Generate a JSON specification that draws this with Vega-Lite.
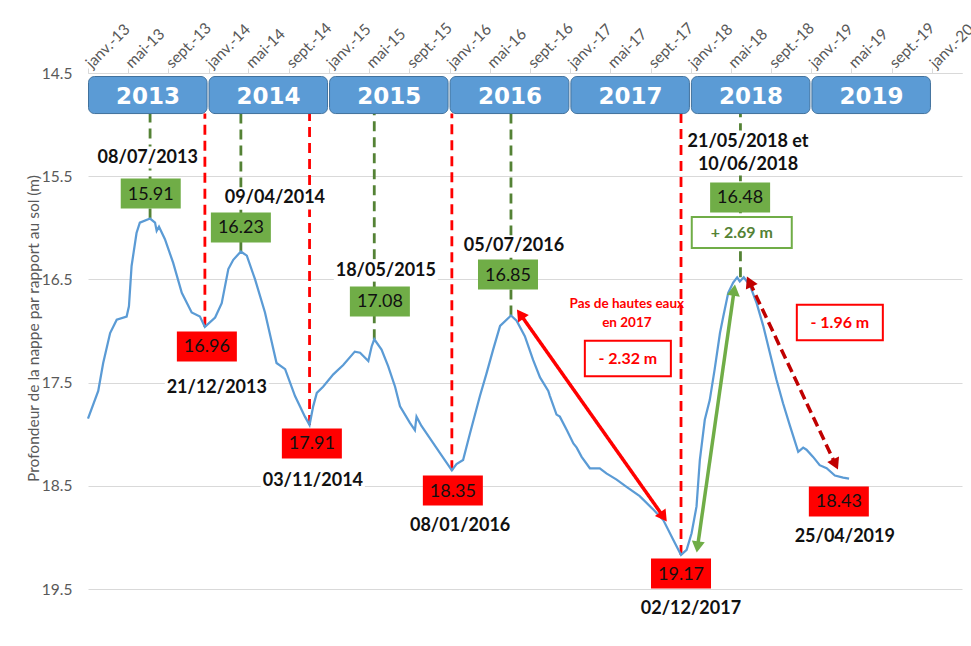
{
  "$schema": "https://vega.github.io/schema/vega-lite/v6.json",
  "width": 874,
  "height": 516,
  "autosize": {"type": "none"},
  "padding": {"left": 88, "top": 73, "right": 9, "bottom": 57},
  "background": "white",
  "config": {"font": "Lato", "view": {"stroke": null}},
  "datasets": {
    "series": [
      {"date": "2013-01-01", "depth": 17.85}, {"date": "2013-02-01", "depth": 17.58}, {"date": "2013-02-16", "depth": 17.31},
      {"date": "2013-03-09", "depth": 17.02}, {"date": "2013-03-29", "depth": 16.89}, {"date": "2013-04-28", "depth": 16.86},
      {"date": "2013-05-05", "depth": 16.76}, {"date": "2013-05-13", "depth": 16.37}, {"date": "2013-05-28", "depth": 16.05},
      {"date": "2013-06-07", "depth": 15.95}, {"date": "2013-07-08", "depth": 15.91}, {"date": "2013-07-23", "depth": 15.95},
      {"date": "2013-07-28", "depth": 16.03}, {"date": "2013-08-04", "depth": 15.99}, {"date": "2013-08-22", "depth": 16.11},
      {"date": "2013-09-16", "depth": 16.34}, {"date": "2013-10-12", "depth": 16.63}, {"date": "2013-11-11", "depth": 16.82},
      {"date": "2013-12-06", "depth": 16.86}, {"date": "2013-12-21", "depth": 16.96}, {"date": "2014-01-21", "depth": 16.87},
      {"date": "2014-02-10", "depth": 16.73}, {"date": "2014-03-02", "depth": 16.40}, {"date": "2014-03-17", "depth": 16.31},
      {"date": "2014-04-09", "depth": 16.23}, {"date": "2014-04-27", "depth": 16.27}, {"date": "2014-05-22", "depth": 16.50},
      {"date": "2014-06-21", "depth": 16.82}, {"date": "2014-07-26", "depth": 17.31}, {"date": "2014-08-21", "depth": 17.37},
      {"date": "2014-09-20", "depth": 17.63}, {"date": "2014-10-20", "depth": 17.83}, {"date": "2014-11-03", "depth": 17.91},
      {"date": "2014-11-14", "depth": 17.73}, {"date": "2014-11-25", "depth": 17.60}, {"date": "2014-12-14", "depth": 17.54},
      {"date": "2015-01-14", "depth": 17.42}, {"date": "2015-02-13", "depth": 17.33}, {"date": "2015-03-20", "depth": 17.20},
      {"date": "2015-04-05", "depth": 17.21}, {"date": "2015-04-30", "depth": 17.29}, {"date": "2015-05-10", "depth": 17.15},
      {"date": "2015-05-18", "depth": 17.08}, {"date": "2015-06-09", "depth": 17.18}, {"date": "2015-06-29", "depth": 17.34},
      {"date": "2015-07-20", "depth": 17.54}, {"date": "2015-08-04", "depth": 17.73}, {"date": "2015-09-03", "depth": 17.89},
      {"date": "2015-09-18", "depth": 17.96}, {"date": "2015-09-23", "depth": 17.83}, {"date": "2015-10-08", "depth": 17.92},
      {"date": "2015-11-13", "depth": 18.09}, {"date": "2015-12-13", "depth": 18.23}, {"date": "2016-01-08", "depth": 18.35},
      {"date": "2016-01-22", "depth": 18.29}, {"date": "2016-02-11", "depth": 18.25}, {"date": "2016-03-03", "depth": 17.99},
      {"date": "2016-04-02", "depth": 17.63}, {"date": "2016-04-22", "depth": 17.41}, {"date": "2016-05-12", "depth": 17.18},
      {"date": "2016-06-02", "depth": 16.95}, {"date": "2016-07-05", "depth": 16.85}, {"date": "2016-07-22", "depth": 16.90},
      {"date": "2016-08-16", "depth": 17.05}, {"date": "2016-09-10", "depth": 17.28}, {"date": "2016-10-01", "depth": 17.45},
      {"date": "2016-10-26", "depth": 17.58}, {"date": "2016-10-31", "depth": 17.63}, {"date": "2016-11-20", "depth": 17.81},
      {"date": "2016-11-30", "depth": 17.83}, {"date": "2016-12-21", "depth": 17.96}, {"date": "2017-01-10", "depth": 18.09},
      {"date": "2017-01-20", "depth": 18.13}, {"date": "2017-02-04", "depth": 18.22}, {"date": "2017-03-01", "depth": 18.33},
      {"date": "2017-03-31", "depth": 18.33}, {"date": "2017-04-20", "depth": 18.38}, {"date": "2017-05-21", "depth": 18.44},
      {"date": "2017-06-20", "depth": 18.51}, {"date": "2017-07-30", "depth": 18.60}, {"date": "2017-09-09", "depth": 18.73},
      {"date": "2017-10-09", "depth": 18.83}, {"date": "2017-11-08", "depth": 19.02}, {"date": "2017-12-02", "depth": 19.17},
      {"date": "2017-12-19", "depth": 19.12}, {"date": "2018-01-03", "depth": 18.96}, {"date": "2018-01-18", "depth": 18.70},
      {"date": "2018-01-28", "depth": 18.25}, {"date": "2018-02-12", "depth": 17.86}, {"date": "2018-02-27", "depth": 17.67},
      {"date": "2018-03-14", "depth": 17.37}, {"date": "2018-03-30", "depth": 17.02}, {"date": "2018-04-09", "depth": 16.86},
      {"date": "2018-04-24", "depth": 16.63}, {"date": "2018-05-09", "depth": 16.53}, {"date": "2018-05-21", "depth": 16.48},
      {"date": "2018-05-29", "depth": 16.52}, {"date": "2018-06-10", "depth": 16.48}, {"date": "2018-06-29", "depth": 16.56},
      {"date": "2018-07-19", "depth": 16.73}, {"date": "2018-08-08", "depth": 16.95}, {"date": "2018-08-28", "depth": 17.21},
      {"date": "2018-09-17", "depth": 17.47}, {"date": "2018-10-07", "depth": 17.70}, {"date": "2018-10-28", "depth": 17.92},
      {"date": "2018-11-22", "depth": 18.17}, {"date": "2018-12-07", "depth": 18.13}, {"date": "2018-12-17", "depth": 18.15},
      {"date": "2019-01-06", "depth": 18.22}, {"date": "2019-01-26", "depth": 18.30}, {"date": "2019-02-16", "depth": 18.33},
      {"date": "2019-03-13", "depth": 18.40}, {"date": "2019-04-07", "depth": 18.42}, {"date": "2019-04-25", "depth": 18.43}
    ],
    "years": [
      {"label": "2013", "start": "2013-01-01", "end": "2014-01-01", "mid": "2013-07-02"},
      {"label": "2014", "start": "2014-01-01", "end": "2015-01-01", "mid": "2014-07-02"},
      {"label": "2015", "start": "2015-01-01", "end": "2016-01-01", "mid": "2015-07-02"},
      {"label": "2016", "start": "2016-01-01", "end": "2017-01-01", "mid": "2016-07-02"},
      {"label": "2017", "start": "2017-01-01", "end": "2018-01-01", "mid": "2017-07-02"},
      {"label": "2018", "start": "2018-01-01", "end": "2019-01-01", "mid": "2018-07-02"},
      {"label": "2019", "start": "2019-01-01", "end": "2020-01-01", "mid": "2019-07-02"}
    ],
    "events": [
      {"date": "2013-07-08", "depth": 15.91, "kind": "hautes eaux", "boxDate": "2013-07-10", "boxDepth": 15.668},
      {"date": "2013-12-21", "depth": 16.96, "kind": "basses eaux", "boxDate": "2013-12-27", "boxDepth": 17.150},
      {"date": "2014-04-09", "depth": 16.23, "kind": "hautes eaux", "boxDate": "2014-04-09", "boxDepth": 15.997},
      {"date": "2014-11-03", "depth": 17.91, "kind": "basses eaux", "boxDate": "2014-11-10", "boxDepth": 18.090},
      {"date": "2015-05-18", "depth": 17.08, "kind": "hautes eaux", "boxDate": "2015-06-04", "boxDepth": 16.714},
      {"date": "2016-01-08", "depth": 18.35, "kind": "basses eaux", "boxDate": "2016-01-11", "boxDepth": 18.546},
      {"date": "2016-07-05", "depth": 16.85, "kind": "hautes eaux", "boxDate": "2016-06-26", "boxDepth": 16.453},
      {"date": "2017-12-02", "depth": 19.17, "kind": "basses eaux", "boxDate": "2017-12-02", "boxDepth": 19.350},
      {"date": "2018-05-31", "depth": 16.48, "kind": "hautes eaux", "boxDate": "2018-05-30", "boxDepth": 15.706},
      {"date": "2019-04-25", "depth": 18.43, "kind": "basses eaux", "boxDate": "2019-03-25", "boxDepth": 18.652}
    ],
    "dateLabels": [
      {"date": "2013-07-01", "depth": 15.319, "text": "08/07/2013"},
      {"date": "2014-07-21", "depth": 15.716, "text": "09/04/2014"},
      {"date": "2015-06-22", "depth": 16.414, "text": "18/05/2015"},
      {"date": "2016-07-14", "depth": 16.181, "text": "05/07/2016"},
      {"date": "2018-06-23", "depth": 15.164, "text": "21/05/2018 et"},
      {"date": "2018-06-23", "depth": 15.387, "text": "10/06/2018"},
      {"date": "2014-01-26", "depth": 17.557, "text": "21/12/2013"},
      {"date": "2014-11-13", "depth": 18.458, "text": "03/11/2014"},
      {"date": "2016-02-02", "depth": 18.894, "text": "08/01/2016"},
      {"date": "2018-01-01", "depth": 19.689, "text": "02/12/2017"},
      {"date": "2019-04-12", "depth": 18.999, "text": "25/04/2019"}
    ],
    "deltas": [
      {"date": "2017-06-24", "depth": 17.267, "text": "- 2.32 m", "sens": "baisse"},
      {"date": "2019-03-28", "depth": 16.918, "text": "- 1.96 m", "sens": "baisse"},
      {"date": "2018-06-04", "depth": 16.046, "text": "+ 2.69 m", "sens": "hausse"}
    ],
    "notes": [
      {"date": "2017-06-21", "depth": 16.734, "text": "Pas de hautes eaux"},
      {"date": "2017-06-21", "depth": 16.918, "text": "en 2017"}
    ],
    "arrows": [
      {"arrow": "baisse 2016-2017", "date": "2016-08-02", "depth": 16.836, "date2": "2017-10-10", "depth2": 18.801},
      {"arrow": "hausse 2017-2018", "date": "2018-05-12", "depth": 16.604, "date2": "2018-01-21", "depth2": 19.092},
      {"arrow": "baisse 2018-2019", "date": "2018-06-27", "depth": 16.521, "date2": "2019-03-15", "depth2": 18.293}
    ]
  },
  "layer": [
    {
      "data": {"name": "events"},
      "transform": [{"filter": "year(datum.date) < 2019"}],
      "mark": {"type": "rule", "strokeWidth": 2.8, "strokeDash": [10, 6]},
      "encoding": {
        "x": {
          "field": "date", "type": "temporal",
          "scale": {"type": "utc", "domain": [{"year": 2013, "month": 1, "date": 1, "utc": true}, {"year": 2020, "month": 4, "date": 1, "utc": true}]},
          "axis": {
            "orient": "top", "title": null, "grid": false,
            "tickCount": {"interval": "month", "step": 4},
            "labelExpr": "(utcmonth(datum.value) == 0 ? 'janv.' : utcmonth(datum.value) == 4 ? 'mai' : 'sept.') + '-' + utcFormat(datum.value, '%y')",
            "labelAngle": -45, "labelAlign": "left", "labelBaseline": "middle",
            "labelFont": "Lato", "labelFontSize": 15.5, "labelColor": "#595959",
            "labelPadding": 3, "labelOverlap": false, "labelFlush": false, "labelBound": false,
            "tickColor": "#D9D9D9", "tickSize": 5, "domainColor": "#D9D9D9"
          }
        },
        "y": {
          "field": "depth", "type": "quantitative",
          "scale": {"domain": [14.5, 19.5], "reverse": true, "zero": false, "nice": false},
          "axis": {
            "values": [14.5, 15.5, 16.5, 17.5, 18.5, 19.5], "format": ".1f",
            "title": "Profondeur de la nappe par rapport au sol (m)",
            "grid": true, "gridColor": "#D9D9D9", "ticks": false, "tickSize": 0, "domain": false,
            "labelPadding": 16, "labelFont": "Lato", "labelFontSize": 15.5, "labelColor": "#595959",
            "titleFont": "Lato", "titleFontSize": 15.5, "titleFontWeight": "normal", "titleColor": "#595959",
            "titleX": -55, "titleY": 255, "titleAngle": -90, "titleBaseline": "middle", "titleAlign": "center"
          }
        },
        "y2": {"datum": 14.893},
        "stroke": {
          "field": "kind", "type": "nominal", "legend": null,
          "scale": {"domain": ["hautes eaux", "basses eaux", "baisse 2016-2017", "hausse 2017-2018", "baisse 2018-2019"], "range": ["#548235", "#FF0000", "#FF0000", "#70AD47", "#C00000"]}
        }
      }
    },
    {
      "data": {"name": "years"},
      "mark": {"type": "rect", "fill": "#5B9BD5", "stroke": "#41719C", "strokeWidth": 1, "cornerRadius": 6, "xOffset": 0.5, "x2Offset": -1.5},
      "encoding": {
        "x": {"field": "start", "type": "temporal"},
        "x2": {"field": "end"},
        "y": {"datum": 14.534, "type": "quantitative"},
        "y2": {"datum": 14.893}
      }
    },
    {
      "data": {"name": "years"},
      "mark": {"type": "text", "font": "DejaVu Sans", "fontWeight": "bold", "fontSize": 23, "fill": "white", "align": "center", "baseline": "middle"},
      "encoding": {
        "x": {"field": "mid", "type": "temporal"},
        "y": {"datum": 14.728, "type": "quantitative"},
        "text": {"field": "label", "type": "nominal"}
      }
    },
    {
      "data": {"name": "dateLabels"},
      "mark": {"type": "point", "shape": "M-1,-0.21H1V0.21H-1Z", "size": 10816, "filled": true, "fill": "white", "opacity": 1, "strokeWidth": 0},
      "encoding": {
        "x": {"field": "date", "type": "temporal"},
        "y": {"field": "depth", "type": "quantitative"}
      }
    },
    {
      "data": {"name": "series"},
      "mark": {"type": "line", "color": "#5B9BD5", "strokeWidth": 2.25},
      "encoding": {
        "x": {"field": "date", "type": "temporal"},
        "y": {"field": "depth", "type": "quantitative"}
      }
    },
    {
      "data": {"name": "arrows"},
      "mark": {"type": "rule", "strokeWidth": 3.5},
      "encoding": {
        "x": {"field": "date", "type": "temporal"},
        "y": {"field": "depth", "type": "quantitative"},
        "x2": {"field": "date2"},
        "y2": {"field": "depth2"},
        "stroke": {
          "field": "arrow", "type": "nominal", "legend": null,
          "scale": {"domain": ["hautes eaux", "basses eaux", "baisse 2016-2017", "hausse 2017-2018", "baisse 2018-2019"], "range": ["#548235", "#FF0000", "#FF0000", "#70AD47", "#C00000"]}
        },
        "strokeDash": {
          "field": "arrow", "type": "nominal", "legend": null,
          "scale": {"domain": ["baisse 2016-2017", "hausse 2017-2018", "baisse 2018-2019"], "range": [[1, 0], [1, 0], [10, 5]]}
        }
      }
    },
    {
      "data": {"name": "arrows"},
      "transform": [{"calculate": "datum.arrow == 'baisse 2016-2017' ? 324.7 : datum.arrow == 'hausse 2017-2018' ? 8.1 : 334.7", "as": "rotation"}],
      "mark": {"type": "point", "shape": "triangle-up", "size": 170, "filled": true, "opacity": 1, "strokeWidth": 0},
      "encoding": {
        "x": {"field": "date", "type": "temporal"},
        "y": {"field": "depth", "type": "quantitative"},
        "angle": {"field": "rotation", "type": "quantitative", "scale": null},
        "fill": {
          "field": "arrow", "type": "nominal", "legend": null,
          "scale": {"domain": ["hautes eaux", "basses eaux", "baisse 2016-2017", "hausse 2017-2018", "baisse 2018-2019"], "range": ["#70AD47", "#FF0000", "#FF0000", "#70AD47", "#C00000"]}
        }
      }
    },
    {
      "data": {"name": "arrows"},
      "transform": [{"calculate": "datum.arrow == 'baisse 2016-2017' ? 144.7 : datum.arrow == 'hausse 2017-2018' ? 188.1 : 154.7", "as": "rotation"}],
      "mark": {"type": "point", "shape": "triangle-up", "size": 170, "filled": true, "opacity": 1, "strokeWidth": 0},
      "encoding": {
        "x": {"field": "date2", "type": "temporal"},
        "y": {"field": "depth2", "type": "quantitative"},
        "angle": {"field": "rotation", "type": "quantitative", "scale": null},
        "fill": {
          "field": "arrow", "type": "nominal", "legend": null,
          "scale": {"domain": ["hautes eaux", "basses eaux", "baisse 2016-2017", "hausse 2017-2018", "baisse 2018-2019"], "range": ["#70AD47", "#FF0000", "#FF0000", "#70AD47", "#C00000"]}
        }
      }
    },
    {
      "data": {"name": "events"},
      "mark": {"type": "point", "shape": "M-1,-0.5H1V0.5H-1Z", "size": 3600, "filled": true, "opacity": 1, "strokeWidth": 0},
      "encoding": {
        "x": {"field": "boxDate", "type": "temporal"},
        "y": {"field": "boxDepth", "type": "quantitative"},
        "fill": {
          "field": "kind", "type": "nominal", "legend": null,
          "scale": {"domain": ["hautes eaux", "basses eaux", "baisse 2016-2017", "hausse 2017-2018", "baisse 2018-2019"], "range": ["#70AD47", "#FF0000", "#FF0000", "#70AD47", "#C00000"]}
        }
      }
    },
    {
      "data": {"name": "events"},
      "mark": {"type": "text", "font": "Lato", "fontSize": 18, "color": "#111111", "align": "center", "baseline": "middle", "dy": 1},
      "encoding": {
        "x": {"field": "boxDate", "type": "temporal"},
        "y": {"field": "boxDepth", "type": "quantitative"},
        "text": {"field": "depth", "type": "quantitative", "format": ".2f"}
      }
    },
    {
      "data": {"name": "dateLabels"},
      "mark": {"type": "text", "font": "Lato", "fontWeight": "bold", "fontSize": 18, "color": "#111111", "align": "center", "baseline": "middle"},
      "encoding": {
        "x": {"field": "date", "type": "temporal"},
        "y": {"field": "depth", "type": "quantitative"},
        "text": {"field": "text", "type": "nominal"}
      }
    },
    {
      "data": {"name": "deltas"},
      "transform": [{"filter": "datum.sens == 'baisse'"}],
      "mark": {"type": "point", "shape": "M-1,-0.414H1V0.414H-1Z", "size": 7400, "filled": false, "fill": "white", "fillOpacity": 1, "stroke": "#FF0000", "strokeWidth": 2, "opacity": 1},
      "encoding": {
        "x": {"field": "date", "type": "temporal"},
        "y": {"field": "depth", "type": "quantitative"}
      }
    },
    {
      "data": {"name": "deltas"},
      "transform": [{"filter": "datum.sens == 'hausse'"}],
      "mark": {"type": "point", "shape": "M-1,-0.31H1V0.31H-1Z", "size": 10000, "filled": false, "fill": "white", "fillOpacity": 1, "stroke": "#70AD47", "strokeWidth": 2, "opacity": 1},
      "encoding": {
        "x": {"field": "date", "type": "temporal"},
        "y": {"field": "depth", "type": "quantitative"}
      }
    },
    {
      "data": {"name": "deltas"},
      "transform": [{"filter": "datum.sens == 'baisse'"}],
      "mark": {"type": "text", "font": "Lato", "fontWeight": "bold", "fontSize": 16, "color": "#FF0000", "align": "center", "baseline": "middle"},
      "encoding": {
        "x": {"field": "date", "type": "temporal"},
        "y": {"field": "depth", "type": "quantitative"},
        "text": {"field": "text", "type": "nominal"}
      }
    },
    {
      "data": {"name": "deltas"},
      "transform": [{"filter": "datum.sens == 'hausse'"}],
      "mark": {"type": "text", "font": "Lato", "fontWeight": "bold", "fontSize": 16, "color": "#548235", "align": "center", "baseline": "middle"},
      "encoding": {
        "x": {"field": "date", "type": "temporal"},
        "y": {"field": "depth", "type": "quantitative"},
        "text": {"field": "text", "type": "nominal"}
      }
    },
    {
      "data": {"name": "notes"},
      "mark": {"type": "text", "font": "Lato", "fontWeight": "bold", "fontSize": 13.5, "color": "#FF0000", "align": "center", "baseline": "middle"},
      "encoding": {
        "x": {"field": "date", "type": "temporal"},
        "y": {"field": "depth", "type": "quantitative"},
        "text": {"field": "text", "type": "nominal"}
      }
    }
  ]
}
